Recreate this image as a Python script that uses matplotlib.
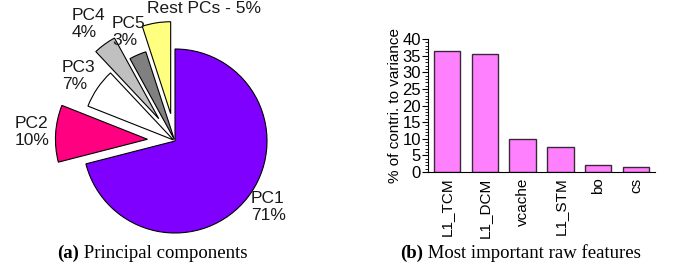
import matplotlib
matplotlib.use('Agg')
import matplotlib.pyplot as plt
from matplotlib.ticker import MultipleLocator

plt.rcParams['font.family'] = ['Liberation Sans', 'DejaVu Sans']

# --- data ---
pc_labels = ['PC1\n71%', 'PC2\n10%', 'PC3\n7%', 'PC4\n4%', 'PC5\n3%', 'Rest PCs - 5%']
pc_values = [71, 10, 7, 4, 3, 5]
pc_colors = ['#7F00FF', '#FF0080', '#FFFFFF', '#C0C0C0', '#808080', '#FFFF80']
pc_explode = [0, 0.3, 0.02, 0.3, 0.02, 0.3]

feat_names = ['L1_TCM', 'L1_DCM', 'vcache', 'L1_STM', 'bo', 'cs']
feat_values = [36.3, 35.5, 9.9, 7.5, 2.0, 1.5]

W, H = 673, 268
fig = plt.figure(figsize=(W / 100, H / 100), dpi=100)

# pie, centre (175,141) px, radius 92 px
cx, cy, r = 175, 141, 92
lim = 1.5
side = 2 * lim * r
ax1 = fig.add_axes([(cx - side / 2) / W, (H - cy - side / 2) / H, side / W, side / H])
ax1.pie(pc_values, colors=pc_colors, explode=pc_explode, startangle=90,
        counterclock=False, wedgeprops=dict(edgecolor='black', linewidth=0.8))
ax1.set_xlim(-lim, lim)
ax1.set_ylim(-lim, lim)
ax1.set_aspect('equal')
ax1.axis('off')

# label positions (left/top in pixels)
label_px = [(251, 191), (15, 116), (62, 60), (72, 8), (112, 16), (147, 1)]
for lab, (px, py) in zip(pc_labels, label_px):
    ax1.text((px - cx) / r, (cy - py) / r, lab, ha='left', va='top',
             fontsize=12.5, color='#1a1a1a', linespacing=1.15, clip_on=False)

# bar chart
ax2 = fig.add_axes([428 / W, (H - 172) / H, 227 / W, 133 / H])
x = range(len(feat_names))
ax2.bar(x, feat_values, width=0.7, color='#FF80FF', edgecolor='#3a2838', linewidth=1)
ax2.set_xlim(-0.5, 5.5)
ax2.set_ylim(0, 40)
ax2.yaxis.set_major_locator(MultipleLocator(5))
ax2.yaxis.set_minor_locator(MultipleLocator(1))
ax2.set_xticks(list(x))
ax2.set_xticklabels(feat_names, rotation=90, fontsize=11)
ax2.tick_params(axis='x', length=0, pad=4)
ax2.tick_params(axis='y', which='major', length=4, width=0.8, labelsize=12, pad=1)
ax2.tick_params(axis='y', which='minor', length=2, width=0.6)
ax2.set_ylabel('% of contri. to variance', fontsize=11, labelpad=0)
for s in ['top', 'right']:
    ax2.spines[s].set_visible(False)
for s in ['left', 'bottom']:
    ax2.spines[s].set_linewidth(0.8)

# captions
cap_font = dict(family=['Liberation Serif', 'DejaVu Serif'], fontsize=13.5)
ta = fig.text(57 / W, 1 - 258 / H, '(a)', fontweight='bold', ha='left', va='baseline', **cap_font)
plt.annotate(' Principal components', xy=(1, 0), xycoords=ta, ha='left', va='bottom', **cap_font)
tb = fig.text(400 / W, 1 - 258 / H, '(b)', fontweight='bold', ha='left', va='baseline', **cap_font)
plt.annotate(' Most important raw features', xy=(1, 0), xycoords=tb, ha='left', va='bottom', **cap_font)

fig.savefig('out.png', dpi=100)
